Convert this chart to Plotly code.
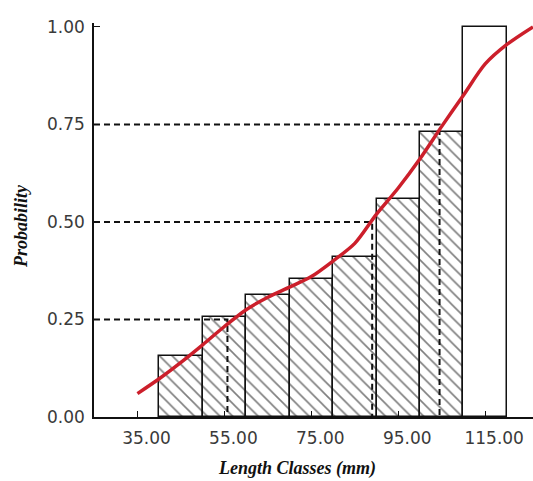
import plotly.graph_objects as go

# ---- data ----
class_centers = [45, 55, 65, 75, 85, 95, 105, 115]          # mm, 10-mm classes
class_probs = [0.156, 0.257, 0.313, 0.353, 0.409, 0.559, 0.730, 1.0]
hatched = [True, True, True, True, True, True, True, False]

curve_x = [35, 40, 45, 50, 55, 60, 65, 70, 75, 80, 85, 90, 95, 100, 105, 110, 115, 120, 126]
curve_y = [0.06, 0.098, 0.14, 0.185, 0.232, 0.275, 0.307, 0.333, 0.36, 0.40, 0.445, 0.52,
           0.587, 0.662, 0.745, 0.825, 0.905, 0.955, 1.0]

quartile_probs = [0.25, 0.50, 0.75]
quartile_lengths = [55.7, 89.0, 104.5]

x_tickvals = [35, 55, 75, 95, 115]
x_ticktext = ["35.00", "55.00", "75.00", "95.00", "115.00"]
y_tickvals = [0.0, 0.25, 0.5, 0.75, 1.0]
y_ticktext = ["0.00", "0.25", "0.50", "0.75", "1.00"]

X_MIN, X_MAX = 25, 126

fig = go.Figure()

fig.add_trace(go.Bar(
    x=class_centers, y=class_probs, width=10,
    marker=dict(
        color="white",
        line=dict(color="#111111", width=1.5),
        pattern=dict(shape=["\\" if h else "" for h in hatched],
                     fgcolor="#000000", bgcolor="white", size=9, solidity=0.18),
    ),
    showlegend=False, hoverinfo="skip",
))

# quartile guide lines
for p, q in zip(quartile_probs, quartile_lengths):
    fig.add_trace(go.Scatter(x=[X_MIN, q, q], y=[p, p, 0], mode="lines",
                             line=dict(color="#111111", width=2, dash="6px,4px"),
                             showlegend=False, hoverinfo="skip"))

fig.add_trace(go.Scatter(x=curve_x, y=curve_y, mode="lines",
                         line=dict(color="#cc1f2b", width=3.5, shape="spline", smoothing=0.8),
                         showlegend=False, hoverinfo="skip"))

tick_font = dict(family="DejaVu Sans, sans-serif", size=17, color="#3a3a3a")
title_font = dict(family="Liberation Serif, Times New Roman, serif", size=18, color="#111111")

fig.update_layout(
    width=533, height=481,
    margin=dict(l=94, r=0, t=23, b=64),
    paper_bgcolor="white", plot_bgcolor="white",
    bargap=0,
    xaxis=dict(range=[X_MIN, X_MAX], tickvals=x_tickvals, ticktext=x_ticktext,
               showgrid=False, zeroline=False, showline=True, linecolor="#111111", linewidth=1.5,
               ticks="inside", ticklen=6, tickcolor="#111111", tickwidth=1.2,
               tickfont=tick_font, ticklabelshift=9, ticklabelstandoff=5),
    yaxis=dict(range=[0, 1.01], tickvals=y_tickvals, ticktext=y_ticktext,
               showgrid=False, zeroline=False, showline=True, linecolor="#111111", linewidth=1.5,
               ticks="inside", ticklen=6, tickcolor="#111111", tickwidth=1.2,
               tickfont=tick_font, ticklabelstandoff=4),
    annotations=[
        dict(text="<b><i>Length Classes (mm)</i></b>", xref="paper", yref="paper",
             x=0.4624, y=0, yshift=-51, xanchor="center", yanchor="middle", showarrow=False,
             font=title_font),
        dict(text="<b><i>Probability</i></b>", xref="paper", yref="paper",
             x=0, xshift=-73, y=0.485, xanchor="center", yanchor="middle", showarrow=False,
             textangle=-90, font=title_font),
    ],
)

fig.write_html("out.html")
